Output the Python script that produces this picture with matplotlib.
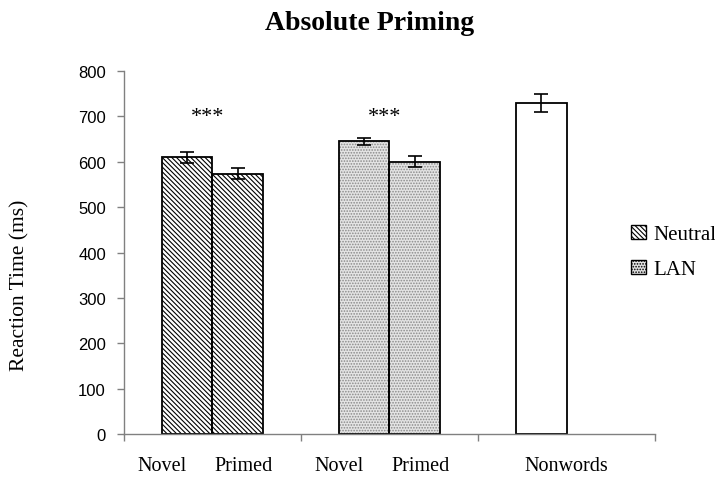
import numpy as np
import matplotlib.pyplot as plt
from matplotlib.patches import Patch

# reaction times (ms) and standard errors
cond_labels = ["Novel", "Primed", "Novel", "Primed", "Nonwords"]
neutral_rt = [610, 574]
neutral_se = [12, 12]
lan_rt = [645, 600]
lan_se = [8, 12]
nonword_rt = [729]
nonword_se = [20]
yticks = [0, 100, 200, 300, 400, 500, 600, 700, 800]

serif = "Liberation Serif"
sans = "Liberation Sans"
plt.rcParams["hatch.linewidth"] = 0.8

fig = plt.figure(figsize=(7.15, 4.81), dpi=100)
ax = fig.add_axes([0.1734, 0.0956, 0.9161 - 0.1734, 0.8503 - 0.0956])

w = 0.288
off = np.array([-w / 2, w / 2])
err_kw = dict(ecolor="black", capsize=4.7, elinewidth=1.2, capthick=1.2)
edge = dict(edgecolor="black", linewidth=1.3)
stripes = "\\" * 7
dots = "......"

# Neutral: diagonal stripes
ax.bar(0 + off, neutral_rt, w, color="white", hatch=stripes, edgecolor="black", linewidth=0)
ax.bar(0 + off, neutral_rt, w, fill=False, yerr=neutral_se, error_kw=err_kw, **edge)

# LAN: fine gray dot pattern
ax.bar(1 + off, lan_rt, w, color="#e4e4e4", hatch=dots, edgecolor="#8a8a8a", linewidth=0)
ax.bar(1 + off, lan_rt, w, fill=False, yerr=lan_se, error_kw=err_kw, **edge)

# Nonwords: plain white
ax.bar([2 - w / 2], nonword_rt, w, color="white", yerr=nonword_se, error_kw=err_kw, **edge)

# significance markers
for x in [0, 1]:
    ax.text(x - 0.03, 700, "***", ha="center", va="center", fontsize=16, family=serif)

ax.set_xlim(-0.5, 2.5)
ax.set_ylim(0, 800)
ax.set_yticks(yticks)
ax.set_yticklabels([str(v) for v in yticks], fontsize=12, family=sans)
ax.set_xticks([-0.5, 0.5, 1.5, 2.5])
ax.set_xticklabels([])
ax.tick_params(axis="x", length=5, color="#808080", width=1)
ax.tick_params(axis="y", length=5, color="#808080", width=1, pad=8)

# condition labels under each pair
label_x = [-0.285, 0.175, 0.715, 1.175, 2.0]
for x, lab in zip(label_x, cond_labels):
    ax.text(x, -0.088, lab, ha="center", va="center", fontsize=14.5, family=serif,
            transform=ax.get_xaxis_transform())

for s in ["top", "right"]:
    ax.spines[s].set_visible(False)
for s in ["left", "bottom"]:
    ax.spines[s].set_color("#808080")
    ax.spines[s].set_linewidth(1)

fig.text(0.028, 0.4075, "Reaction Time (ms)", rotation=90, ha="center", va="center",
         fontsize=15.5, family=serif)

fig.text(0.517, 0.952, "Absolute Priming", ha="center", va="center",
         fontsize=20, fontweight="bold", family=serif)

handles = [
    Patch(facecolor="white", edgecolor="black", hatch=stripes, linewidth=1),
    Patch(facecolor="#e4e4e4", edgecolor="black", hatch=dots, linewidth=1),
]
fig.legend(handles, ["Neutral", "LAN"], loc="center left", bbox_to_anchor=(0.868, 0.474),
           frameon=False, prop={"family": serif, "size": 15}, handlelength=0.7,
           handleheight=0.7, handletextpad=0.35, labelspacing=0.75, borderpad=0)

fig.savefig("out.png", dpi=100)
